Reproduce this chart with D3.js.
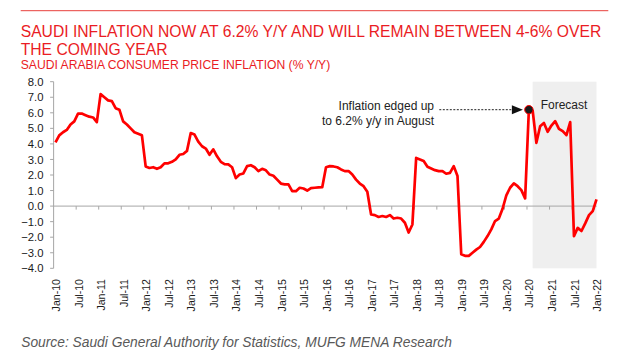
<!DOCTYPE html>
<html>
<head>
<meta charset="utf-8">
<script src="https://cdn.jsdelivr.net/npm/d3@7"></script>
<style>
  html, body { margin: 0; padding: 0; background: #fff; }
  svg { display: block; font-family: "Liberation Sans", Arial, sans-serif; }
</style>
</head>
<body>
<svg id="chart" width="618" height="357"></svg>
<script>
// ---- data (monthly, Jan-10 .. Jan-22) ----
const startYear = 2010;
const inflation = [
  4.1, 4.55, 4.75, 4.9, 5.25, 5.45, 5.95, 5.95, 5.85, 5.75, 5.7, 5.4,      // 2010
  7.2, 7.0, 6.8, 6.75, 6.3, 6.2, 5.45, 5.25, 5.0, 4.75, 4.65, 4.55,        // 2011
  2.55, 2.45, 2.5, 2.4, 2.5, 2.75, 2.75, 2.85, 3.0, 3.3, 3.35, 3.55,       // 2012
  4.7, 4.6, 4.15, 3.85, 3.7, 3.3, 3.65, 3.2, 2.85, 2.7, 2.68, 2.5,         // 2013
  1.8, 2.03, 2.1, 2.57, 2.63, 2.5, 2.25, 2.4, 2.3, 2.03, 1.95, 1.7,        // 2014
  1.45, 1.4, 1.4, 0.96, 0.96, 1.18, 1.13, 1.0, 1.16, 1.18, 1.2, 1.22,      // 2015
  2.5, 2.57, 2.55, 2.5, 2.36, 2.25, 2.25, 2.03, 1.7, 1.45, 1.28, 0.92,     // 2016
  -0.54, -0.58, -0.7, -0.64, -0.7, -0.58, -0.8, -0.75, -0.8, -1.07, -1.7, -1.18, // 2017
  3.1, 3.0, 2.9, 2.53, 2.42, 2.31, 2.25, 2.25, 2.08, 2.14, 2.57, 1.93,     // 2018
  -3.1, -3.2, -3.2, -3.0, -2.8, -2.63, -2.3, -1.93, -1.5, -0.96, -0.8, -0.17, // 2019
  0.69, 1.18, 1.46, 1.28, 1.03, 0.5, 6.2, 6.15, 4.07, 5.14, 5.35, 4.78,    // 2020
  5.18, 5.46, 4.97, 4.82, 4.56, 5.4, -1.93, -1.4, -1.6, -1.11, -0.58, -0.32, // 2021
  0.43                                                                      // 2022
];
const monthNames = ["Jan","Feb","Mar","Apr","May","Jun","Jul","Aug","Sep","Oct","Nov","Dec"];
const xTickMonths = d3.range(0, 145, 6);
const xTickLabels = xTickMonths.map(m => monthNames[m % 12] + "-" + String((startYear + Math.floor(m / 12)) % 100).padStart(2, "0"));
const yTicks = d3.range(-4, 8.001, 1);
const highlightIndex = 126;          // 6.2% print
const forecastStart = 127;
const forecastEnd = 144;

const titleLines = ["SAUDI INFLATION NOW AT 6.2% Y/Y AND WILL REMAIN BETWEEN 4-6% OVER", "THE COMING YEAR"];
const subtitle = "SAUDI ARABIA CONSUMER PRICE INFLATION (% Y/Y)";
const annotationLines = ["Inflation edged up", "to 6.2% y/y in August"];
const forecastLabel = "Forecast";
const sourceText = "Source: Saudi General Authority for Statistics, MUFG MENA Research";

// ---- layout ----
const svg = d3.select("#chart");
const red = "#ea1c24";
const axisGray = "#a6a6a6";

const x = d3.scaleLinear().domain([0, 144]).range([55.5, 596.5]);
const y = d3.scaleLinear().domain([-4, 8]).range([268.3, 81.7]);

function fitWidth(sel, target) {
  const fs = parseFloat(sel.attr("font-size"));
  const w = sel.node().getComputedTextLength();
  sel.attr("font-size", (fs * target / w).toFixed(2));
}

// top rule
svg.append("line").attr("x1", 20.7).attr("x2", 608.3).attr("y1", 10.7).attr("y2", 10.7)
  .attr("stroke", "#e8413c").attr("stroke-width", 1);

// titles
const t1 = svg.append("text").attr("x", 20.7).attr("y", 36.6).attr("font-size", 16).attr("fill", red).text(titleLines[0]);
fitWidth(t1, 581);
svg.append("text").attr("x", 20.7).attr("y", 54.6).attr("font-size", t1.attr("font-size")).attr("fill", red).text(titleLines[1]);
const st = svg.append("text").attr("x", 20.7).attr("y", 68.6).attr("font-size", 12).attr("fill", red).text(subtitle);
fitWidth(st, 310);

// forecast shading
svg.append("rect")
  .attr("x", x(forecastStart)).attr("y", y(8))
  .attr("width", x(forecastEnd) - x(forecastStart)).attr("height", y(-4) - y(8))
  .attr("fill", "#efefef");
svg.append("text").attr("x", 564).attr("y", 109.3).attr("text-anchor", "middle")
  .attr("font-size", 12).attr("fill", "#222").text(forecastLabel);

// y axis
const xAxisStart = x(-0.5);
svg.append("line").attr("x1", xAxisStart).attr("x2", xAxisStart).attr("y1", y(8)).attr("y2", y(-4))
  .attr("stroke", axisGray).attr("stroke-width", 1);
const yg = svg.append("g");
yg.selectAll("line").data(yTicks).join("line")
  .attr("x1", xAxisStart - 3.5).attr("x2", xAxisStart).attr("y1", d => y(d)).attr("y2", d => y(d))
  .attr("stroke", axisGray).attr("stroke-width", 1);
yg.selectAll("text").data(yTicks).join("text")
  .attr("x", 43.5).attr("y", d => y(d)).attr("dy", "0.36em").attr("text-anchor", "end")
  .attr("font-size", 11.3).attr("fill", "#1a1a1a").text(d3.format(".1f"));

// x axis at zero
svg.append("line").attr("x1", xAxisStart).attr("x2", x(forecastEnd) + 0.2).attr("y1", y(0)).attr("y2", y(0))
  .attr("stroke", axisGray).attr("stroke-width", 1);
svg.append("g").selectAll("line").data(xTickMonths.filter(m => m > 0)).join("line")
  .attr("x1", m => x(m - 0.5)).attr("x2", m => x(m - 0.5)).attr("y1", y(0)).attr("y2", y(0) + 3.5)
  .attr("stroke", axisGray).attr("stroke-width", 1);
svg.append("g").selectAll("text").data(xTickMonths).join("text")
  .attr("transform", (m) => `translate(${x(m) + 4.6},279) rotate(-90)`)
  .attr("text-anchor", "end").attr("font-size", 10.6).attr("fill", "#1a1a1a")
  .text((m, i) => xTickLabels[i]);

// line
const line = d3.line().x((d, i) => x(i)).y(d => y(d));
svg.append("path").datum(inflation)
  .attr("d", line).attr("fill", "none").attr("stroke", "#ff0000")
  .attr("stroke-width", 2.7).attr("stroke-linejoin", "round");

// annotation
const hx = x(highlightIndex), hy = y(inflation[highlightIndex]);
svg.append("line").attr("x1", 439.3).attr("x2", hx - 17).attr("y1", hy).attr("y2", hy)
  .attr("stroke", "#222").attr("stroke-width", 1).attr("stroke-dasharray", "2,1.5");
svg.append("path")
  .attr("d", `M${hx - 6},${hy} L${hx - 17},${hy - 4.5} L${hx - 17},${hy + 4.5} Z`)
  .attr("fill", "#111");
svg.append("circle").attr("cx", hx).attr("cy", hy).attr("r", 4.2)
  .attr("fill", "#1a1a1a").attr("stroke", "#ff0000").attr("stroke-width", 1);
svg.append("g").selectAll("text").data(annotationLines).join("text")
  .attr("x", 434).attr("y", (d, i) => 110.3 + i * 14.7).attr("text-anchor", "end")
  .attr("font-size", 12).attr("fill", "#222").text(d => d);

// source
const src = svg.append("text").attr("x", 21.2).attr("y", 347.2).attr("font-size", 13.5)
  .attr("font-style", "italic").attr("fill", "#595959").text(sourceText);
fitWidth(src, 431);
</script>
</body>
</html>
